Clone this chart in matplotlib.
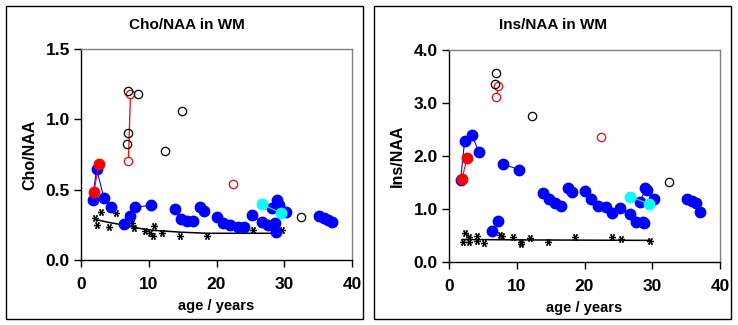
import matplotlib
matplotlib.use("Agg")
import matplotlib.pyplot as plt
from matplotlib.patches import Rectangle

plt.rcParams['font.family'] = ['Liberation Sans', 'DejaVu Sans']

# ---------------- data ----------------
# longitudinal patients (blue), group id marks one patient
blue_age = [1.7, 2.3, 3.4, 4.4, 6.3, 7.3, 7.9, 10.4, 13.9, 14.7, 15.7, 16.5,
            17.6, 18.1, 20.0, 20.9, 22.0, 23.1, 24.1, 25.2, 26.7, 27.6, 28.6,
            28.2, 29.0, 29.2, 30.3, 28.8, 35.2, 35.9, 36.4, 37.0]
blue_grp = [1, 1, 1, 1, 2, 2, 3, 3, 4, 4, 4, 4,
            5, 5, 6, 6, 6, 6, 6, 7, 7, 7, 7,
            8, 8, 8, 8, 9, 10, 10, 10, 10]
cho_blue = [0.427, 0.648, 0.438, 0.379, 0.258, 0.310, 0.374, 0.390, 0.364, 0.293, 0.279, 0.279,
            0.376, 0.345, 0.305, 0.263, 0.246, 0.232, 0.237, 0.317, 0.270, 0.246, 0.263,
            0.367, 0.423, 0.388, 0.338, 0.196, 0.310, 0.296, 0.284, 0.270]
ins_blue = [1.54, 2.28, 2.40, 2.07, 0.59, 0.77, 1.85, 1.74, 1.30, 1.18, 1.11, 1.05,
            1.40, 1.32, 1.34, 1.18, 1.05, 1.03, 0.93, 1.01, 0.91, 0.76, 0.75,
            1.13, 1.39, 1.35, 1.19, 0.74, 1.18, 1.15, 1.11, 0.95]

# red filled patient
red_age = [1.9, 2.65]
cho_red = [0.485, 0.679]
ins_red = [1.56, 1.96]

# cyan patient
cyan_age = [26.7, 29.45]
cho_cyan = [0.396, 0.336]
ins_cyan = [1.235, 1.10]

# red open (connected pair + single)
redo_age_pair = [7.0, 7.3]
cho_redo_pair = [0.705, 1.18]
ins_redo_pair = [3.11, 3.33]
redo_age_single = [22.4]
cho_redo_single = [0.537]
ins_redo_single = [2.36]

# black open circles
cho_open_age = [6.93, 8.4, 6.93, 6.83, 14.9, 12.33, 32.4]
cho_open_val = [1.20, 1.18, 0.906, 0.826, 1.062, 0.774, 0.308]
ins_open_age = [6.96, 6.76, 12.3, 32.5]
ins_open_val = [3.57, 3.36, 2.76, 1.505]

# controls (asterisks) and fitted trend
cho_ctrl_age = [2.0, 2.4, 2.9, 4.2, 5.2, 7.5, 7.8, 9.5, 10.2, 10.6, 10.8, 12.0, 14.6, 18.6, 24.0, 25.4, 29.6]
cho_ctrl_val = [0.30, 0.25, 0.34, 0.235, 0.335, 0.26, 0.227, 0.203, 0.195, 0.17, 0.24, 0.19, 0.17, 0.17, 0.21, 0.215, 0.21]
cho_fit_val = [0.29, 0.285, 0.28, 0.266, 0.258, 0.235, 0.232, 0.218, 0.214, 0.21, 0.21, 0.207, 0.198, 0.19, 0.19, 0.19, 0.19]

ins_ctrl_age = [2.0, 2.4, 3.0, 3.0, 4.1, 4.2, 5.2, 7.6, 7.8, 9.5, 10.6, 10.7, 11.9, 14.6, 18.6, 24.1, 25.4, 29.7]
ins_ctrl_val = [0.38, 0.54, 0.47, 0.38, 0.50, 0.39, 0.36, 0.51, 0.50, 0.48, 0.38, 0.34, 0.45, 0.37, 0.47, 0.47, 0.43, 0.39]
ins_fit_val = [0.425, 0.425, 0.424, 0.424, 0.423, 0.423, 0.422, 0.42, 0.42, 0.418, 0.417, 0.417, 0.416, 0.415, 0.413, 0.41, 0.41, 0.408]

x_ticks = [0, 10, 20, 30, 40]
cho_ticks = [0.0, 0.5, 1.0, 1.5]
ins_ticks = [0.0, 1.0, 2.0, 3.0, 4.0]

# ---------------- drawing ----------------
BLUE = '#0000FF'
RED = '#FF0000'
CYAN = '#00FFFF'
MS = 7.5

fig = plt.figure(figsize=(7.38, 3.25), dpi=100)

# outer panel frames
for (x0, x1) in [(6, 363), (374, 731)]:
    fig.patches.append(Rectangle((x0 / 738, 6 / 325), (x1 - x0) / 738, (319 - 6) / 325,
                                 transform=fig.transFigure, fill=False,
                                 edgecolor='black', linewidth=1.0))


def panel(ax, title, ylabel, yticks, blue, red, cyan, redo_pair, redo_single,
          open_age, open_val, ctrl_age, ctrl_val, fit_val, title_x):
    # blue patients
    groups = []
    for g in blue_grp:
        if g not in groups:
            groups.append(g)
    for g in groups:
        xs = [a for a, gg in zip(blue_age, blue_grp) if gg == g]
        ys = [v for v, gg in zip(blue, blue_grp) if gg == g]
        ax.plot(xs, ys, '-', color=BLUE, lw=0.8, marker='o', ms=MS,
                mfc=BLUE, mec=BLUE, zorder=3)
    ax.plot(red_age, red, '-', color=RED, lw=0.8, marker='o', ms=MS,
            mfc=RED, mec=RED, zorder=4)
    ax.plot(cyan_age, cyan, '-', color=CYAN, lw=0.8, marker='o', ms=MS,
            mfc=CYAN, mec=CYAN, zorder=4)
    ax.plot(redo_age_pair, redo_pair, '-', color=RED, lw=0.9, marker='o', ms=6,
            mfc='white', mec=RED, mew=0.9, zorder=4)
    ax.plot(redo_age_single, redo_single, 'o', ms=6, mfc='white', mec=RED, mew=0.9, zorder=4)
    ax.plot(open_age, open_val, 'o', ms=6, mfc='none', mec='black', mew=0.9, zorder=4)
    ax.plot(ctrl_age, ctrl_val, linestyle='none', marker=(6, 2, 90), ms=5,
            mec='black', mew=0.9, zorder=2)
    ax.plot(ctrl_age, fit_val, '-', color='black', lw=1.1, zorder=2)

    ax.set_xlim(0, 40)
    ax.set_ylim(yticks[0], yticks[-1])
    ax.set_xticks(x_ticks)
    ax.set_yticks(yticks)
    ax.set_yticklabels([f'{t:.1f}' for t in yticks])
    for lab in ax.get_xticklabels() + ax.get_yticklabels():
        lab.set_fontweight('bold')
    ax.tick_params(axis='both', direction='out', length=5, width=1.0,
                   labelsize=12.5)
    ax.tick_params(axis='x', pad=7)
    ax.tick_params(axis='y', pad=3)
    ax.spines['top'].set_color('#808080')
    ax.spines['right'].set_color('#808080')
    for s in ax.spines.values():
        s.set_linewidth(1.0)
    ax.set_xlabel('age / years', fontsize=10.5, fontweight='bold', labelpad=5)
    ax.set_ylabel(ylabel, fontsize=11.5, fontweight='bold', labelpad=6)
    fig.text(title_x, 1 - 25 / 325, title, ha='center', va='center',
             fontsize=11, fontweight='bold')


ax1 = fig.add_axes([81 / 738, 65 / 325, 271 / 738, 211 / 325])
ax2 = fig.add_axes([449 / 738, 63 / 325, 271 / 738, 212 / 325])

panel(ax1, 'Cho/NAA in WM', 'Cho/NAA', cho_ticks, cho_blue, cho_red, cho_cyan,
      cho_redo_pair, cho_redo_single, cho_open_age, cho_open_val,
      cho_ctrl_age, cho_ctrl_val, cho_fit_val, 187 / 738)
panel(ax2, 'Ins/NAA in WM', 'Ins/NAA', ins_ticks, ins_blue, ins_red, ins_cyan,
      ins_redo_pair, ins_redo_single, ins_open_age, ins_open_val,
      ins_ctrl_age, ins_ctrl_val, ins_fit_val, 553 / 738)

fig.savefig('out.png', dpi=100)
